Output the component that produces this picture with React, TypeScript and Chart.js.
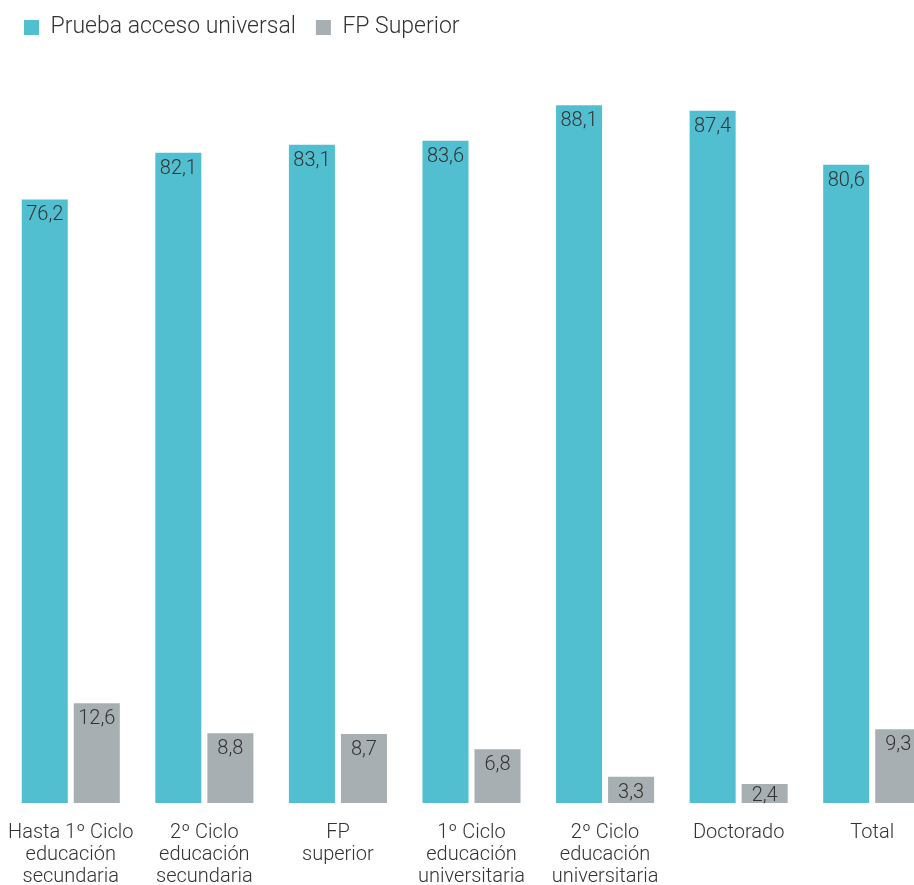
import React, { useEffect, useRef } from "react";
import { Chart, registerables } from "chart.js";

Chart.register(...registerables);

const categories: string[][] = [
  ["Hasta 1º Ciclo", "educación", "secundaria"],
  ["2º Ciclo", "educación", "secundaria"],
  ["FP", "superior"],
  ["1º Ciclo", "educación", "universitaria"],
  ["2º Ciclo", "educación", "universitaria"],
  ["Doctorado"],
  ["Total"],
];
const pruebaAcceso: number[] = [76.2, 82.1, 83.1, 83.6, 88.1, 87.4, 80.6];
const fpSuperior: number[] = [12.6, 8.8, 8.7, 6.8, 3.3, 2.4, 9.3];
const seriesNames: string[] = ["Prueba acceso universal", "FP Superior"];

const TEAL = "#52BFD0";
const GRAY = "#A8AFB2";
const TEXT = "#333333";
const FONT = "Roboto";

const valueLabels = {
  id: "valueLabels",
  afterDatasetsDraw(chart: any) {
    const ctx = chart.ctx;
    ctx.save();
    ctx.font = `300 20px ${FONT}`;
    ctx.fillStyle = TEXT;
    ctx.textAlign = "center";
    ctx.textBaseline = "middle";
    chart.data.datasets.forEach((ds: any, i: number) => {
      const meta = chart.getDatasetMeta(i);
      meta.data.forEach((bar: any, j: number) => {
        const v = ds.data[j] as number;
        const y = Math.min(bar.y + 16, bar.base - 7);
        ctx.fillText(v.toFixed(1).replace(".", ","), bar.x, y);
      });
    });
    ctx.restore();
  },
};

export default function App() {
  const ref = useRef<HTMLCanvasElement>(null);
  useEffect(() => {
    if (!ref.current) return;
    const chart = new Chart(ref.current, {
      type: "bar",
      data: {
        labels: categories,
        datasets: [
          { label: seriesNames[0], data: pruebaAcceso, backgroundColor: TEAL },
          { label: seriesNames[1], data: fpSuperior, backgroundColor: GRAY },
        ],
      },
      options: {
        animation: false,
        responsive: true,
        maintainAspectRatio: false,
        layout: { padding: { left: 4, right: 4, top: -4, bottom: -14 } },
        datasets: {
          bar: { categoryPercentage: 0.779, barPercentage: 0.885 },
        },
        plugins: {
          legend: {
            position: "top",
            align: "start",
            labels: {
              boxWidth: 15,
              boxHeight: 15,
              padding: 20,
              color: TEXT,
              font: { family: FONT, size: 23, weight: "300" },
            },
          },
          tooltip: { enabled: false },
        },
        scales: {
          x: {
            grid: { display: false },
            border: { display: false },
            afterFit: (scale: any) => {
              scale.paddingLeft = 0;
              scale.paddingRight = 0;
            },
            ticks: {
              color: TEXT,
              padding: 11,
              maxRotation: 0,
              autoSkip: false,
              font: { family: FONT, size: 20, weight: "300", lineHeight: "22px" },
            },
          },
          y: {
            display: false,
            min: 0,
            max: 95.2,
          },
        },
      },
      plugins: [valueLabels],
    });
    return () => chart.destroy();
  }, []);
  return (
    <div style={{ position: "absolute", left: 0, top: 0, width: 914, height: 885, overflow: "hidden" }}>
      <div style={{ width: 943, height: 885 }}>
        <canvas ref={ref} />
      </div>
    </div>
  );
}
